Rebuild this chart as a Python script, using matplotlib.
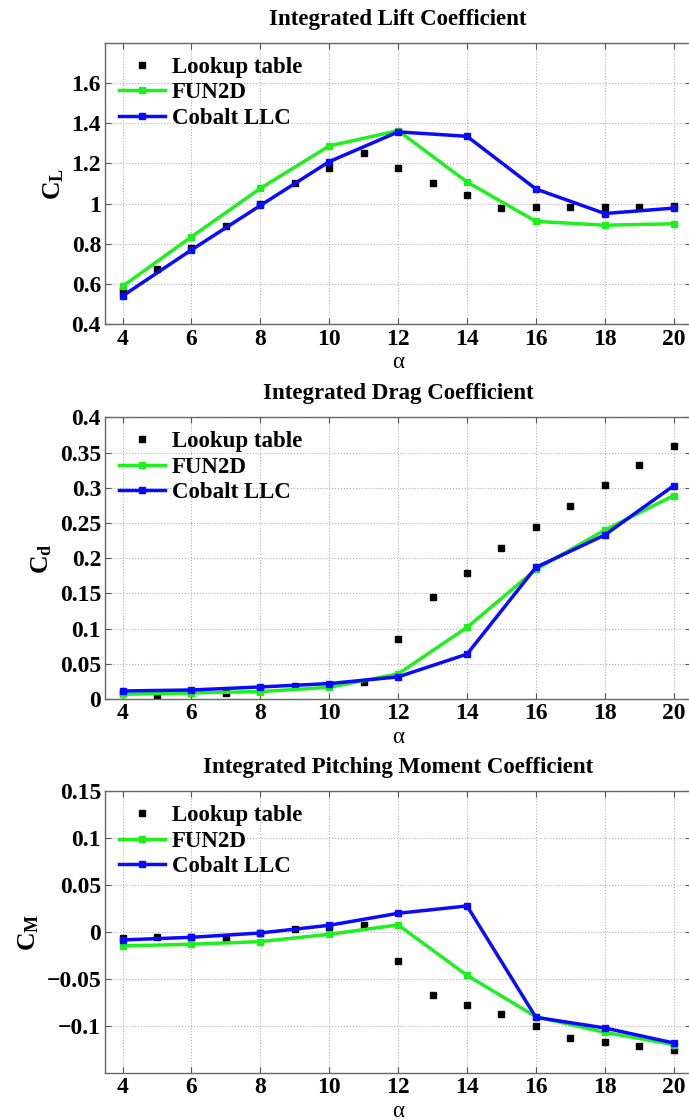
import matplotlib
matplotlib.use('Agg')
import matplotlib.pyplot as plt

plt.rcParams['font.family'] = ['Liberation Serif', 'DejaVu Serif']
plt.rcParams['font.weight'] = 'bold'
plt.rcParams['mathtext.fontset'] = 'custom'
plt.rcParams['mathtext.rm'] = 'Liberation Serif:bold'
plt.rcParams['mathtext.it'] = 'Liberation Serif:bold'
plt.rcParams['mathtext.bf'] = 'Liberation Serif:bold'

# angle of attack
alpha_lookup = [4, 5, 6, 7, 8, 9, 10, 11, 12, 13, 14, 15, 16, 17, 18, 19, 20]
alpha_cfd = [4, 6, 8, 10, 12, 14, 16, 18, 20]

# lift
cl_lookup = [0.566, 0.674, 0.780, 0.887, 0.998, 1.103, 1.179, 1.252, 1.176,
             1.101, 1.041, 0.981, 0.983, 0.983, 0.985, 0.985, 0.986]
cl_fun2d = [0.589, 0.835, 1.076, 1.287, 1.363, 1.108, 0.912, 0.893, 0.900]
cl_cobalt = [0.541, 0.770, 0.991, 1.209, 1.357, 1.335, 1.073, 0.951, 0.978]

# drag
cd_lookup = [0.008, 0.006, 0.008, 0.009, 0.013, 0.0185, 0.020, 0.024, 0.085,
             0.1445, 0.179, 0.214, 0.244, 0.274, 0.304, 0.333, 0.360]
cd_fun2d = [0.0067, 0.0086, 0.0105, 0.0166, 0.0356, 0.1017, 0.184, 0.240, 0.289]
cd_cobalt = [0.0114, 0.0128, 0.0171, 0.0219, 0.0314, 0.0637, 0.187, 0.233, 0.303]

# pitching moment
cm_lookup = [-0.006, -0.005, -0.0057, -0.0071, -0.001, 0.0036, 0.0053, 0.0071,
             -0.0306, -0.0675, -0.0775, -0.0878, -0.1002, -0.1127, -0.1169,
             -0.1215, -0.1258]
cm_fun2d = [-0.0149, -0.0131, -0.0103, -0.0025, 0.0075, -0.0462, -0.0903, -0.107, -0.120]
cm_cobalt = [-0.0085, -0.0057, -0.0011, 0.0071, 0.0199, 0.0277, -0.091, -0.1023, -0.1183]

xticks = [4, 6, 8, 10, 12, 14, 16, 18, 20]

panels = [
    ('Integrated Lift Coefficient', r'$\mathrm{C_L}$', cl_lookup, cl_fun2d, cl_cobalt,
     (0.4, 1.8), [0.4, 0.6, 0.8, 1.0, 1.2, 1.4, 1.6], ['0.4', '0.6', '0.8', '1', '1.2', '1.4', '1.6']),
    ('Integrated Drag Coefficient', r'$\mathrm{C_d}$', cd_lookup, cd_fun2d, cd_cobalt,
     (0.0, 0.4), [0, 0.05, 0.1, 0.15, 0.2, 0.25, 0.3, 0.35, 0.4],
     ['0', '0.05', '0.1', '0.15', '0.2', '0.25', '0.3', '0.35', '0.4']),
    ('Integrated Pitching Moment Coefficient', r'$\mathrm{C_M}$', cm_lookup, cm_fun2d, cm_cobalt,
     (-0.15, 0.15), [-0.1, -0.05, 0, 0.05, 0.1, 0.15],
     ['\u22120.1', '\u22120.05', '0', '0.05', '0.1', '0.15']),
]

fig = plt.figure(figsize=(6.89, 11.2), dpi=100)
bottoms = [0.7104, 0.3759, 0.0422]
fs = 16.5

for (title, ylab, look, fun, cob, ylim, yt, ytl), b in zip(panels, bottoms):
    ax = fig.add_axes([0.1528, b, 0.850, 0.2514])
    ax.plot(alpha_lookup, look, 's', color='black', ms=5, label='Lookup table', zorder=2)
    ax.plot(alpha_cfd, fun, '-s', color='#1ef01e', lw=2.5, ms=4.5, label='FUN2D', zorder=3)
    ax.plot(alpha_cfd, cob, '-s', color='#0a0aff', lw=2.5, ms=4.5, label='Cobalt LLC', zorder=4)
    ax.set_xlim(3.5, 20.5)
    ax.set_ylim(*ylim)
    ax.set_xticks(xticks)
    ax.set_xticklabels([str(t) for t in xticks])
    ax.set_yticks(yt)
    ax.set_yticklabels(ytl)
    ax.grid(True, linestyle=':', color='#b0b0b0', lw=0.8)
    ax.tick_params(direction='in', top=True, right=True, length=4, width=0.8,
                   labelsize=fs + 0.5, pad=3, color='#555555')
    for lab in ax.get_xticklabels() + ax.get_yticklabels():
        lab.set_fontweight('bold')
    for sp in ax.spines.values():
        sp.set_color('#666666')
        sp.set_linewidth(1.0)
    ax.set_title(title, fontsize=fs, fontweight='bold', pad=13)
    ax.set_ylabel(ylab, fontsize=fs + 2, labelpad=4)
    ax.set_xlabel('\u03b1', fontsize=fs, fontweight='normal', labelpad=2)
    leg = ax.legend(loc='upper left', frameon=False, fontsize=fs, handlelength=2.0,
                    handletextpad=0.3, labelspacing=0.2, borderaxespad=0.4,
                    borderpad=0.2, markerscale=1.0)
    for t in leg.get_texts():
        t.set_fontweight('bold')

fig.savefig('out.png', dpi=100)
